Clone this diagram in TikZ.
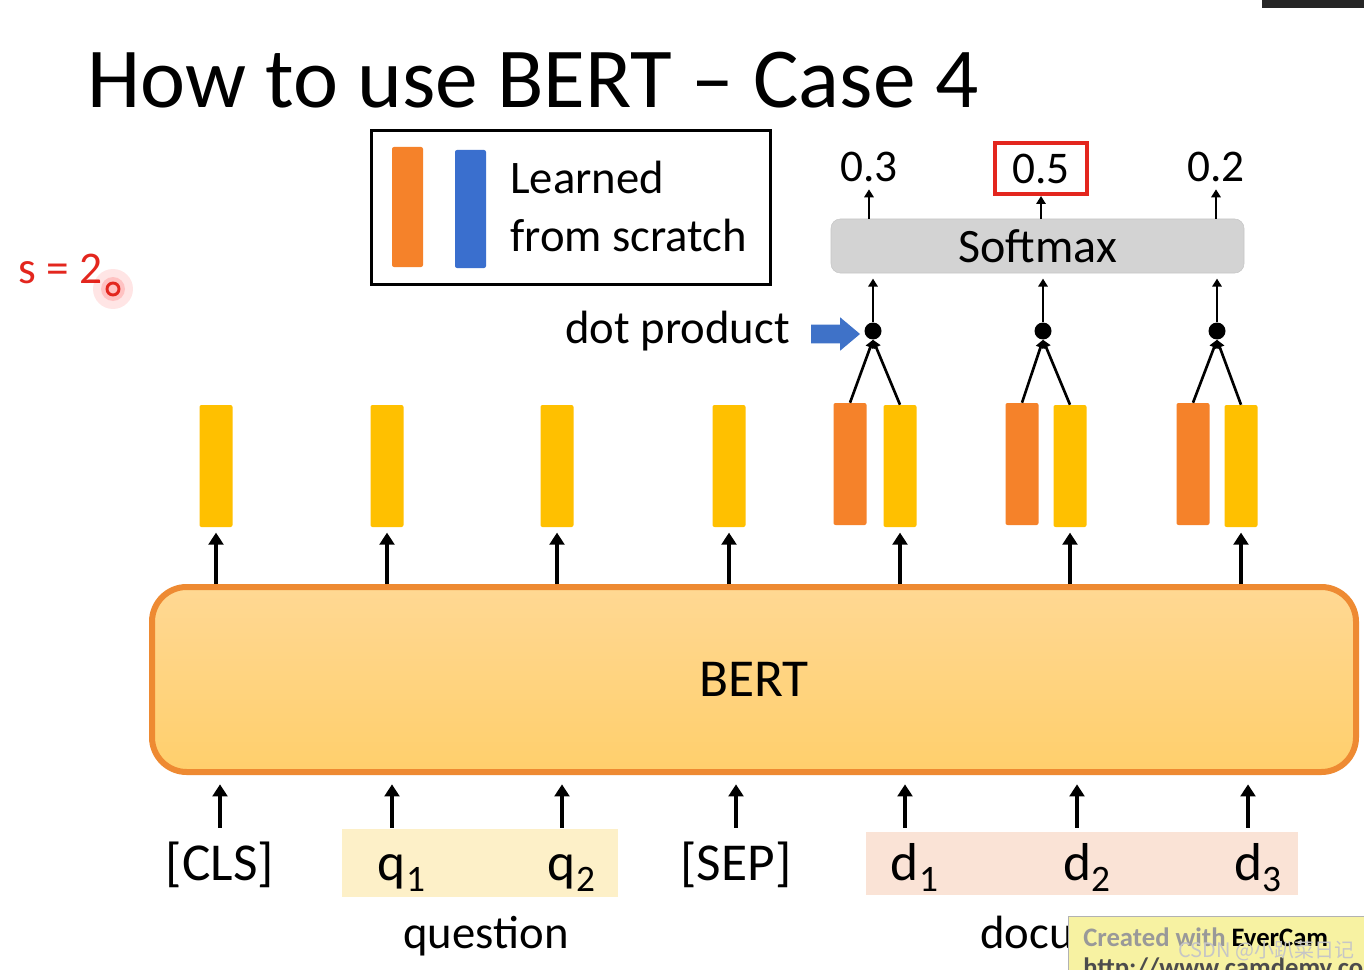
\documentclass[tikz,border=0pt]{standalone}
\usepackage{fontspec}
\setmainfont{Carlito}
\newfontfamily\cjkfont{Noto Sans CJK SC}
\usetikzlibrary{arrows.meta,shapes.arrows,calc}
\definecolor{barY}{HTML}{FFC000}
\definecolor{barO}{HTML}{F5822A}
\definecolor{barB}{HTML}{3A6FCE}
\definecolor{bertE}{HTML}{EE8A32}
\definecolor{bertT}{HTML}{FFD893}
\definecolor{bertB}{HTML}{FFCF6C}
\definecolor{smxF}{HTML}{D3D3D3}
\definecolor{smxD}{HTML}{C6C6C6}
\definecolor{redM}{HTML}{E3261E}
\definecolor{qbg}{HTML}{FDF0C8}
\definecolor{dbg}{HTML}{FAE3D6}
\definecolor{arrowB}{HTML}{3F72C8}
\definecolor{everY}{HTML}{F7F2A2}
\newcommand\fs[1]{\fontsize{#1}{#1}\selectfont}
\newcommand\subs[1]{\rlap{\raisebox{-0.22em}{\fs{28}#1}}}
\tikzset{
  bar/.style={minimum width=24.75pt, minimum height=91.5pt, inner sep=0pt, rounded corners=1.5pt, draw=none},
  ybar/.style={bar, fill=barY},
  obar/.style={bar, fill=barO},
  arrB/.style={line width=3pt, -{Triangle[length=9pt,width=11pt]}},
  arrS/.style={line width=2pt, -{Triangle[length=6pt,width=7pt]}},
  tok/.style={anchor=base, inner sep=0pt, text height=39pt, font=\fs{40}},
  dotn/.style={circle, fill=black, minimum size=12.75pt, inner sep=0pt},
  num/.style={anchor=base, font=\fs{34}, inner sep=0pt},
  lbl/.style={anchor=base west, inner sep=0pt, font=\fs{35}},
}
\begin{document}
\begin{tikzpicture}[x=0.75pt,y=-0.75pt]
\useasboundingbox (0,0) rectangle (1364,970);
\fill[white] (0,0) rectangle (1364,970);
\fill[black!85] (1262,0) rectangle (1364,8);

% title
\node[anchor=base west, inner sep=0pt, font=\fs{64}] (title) at (87,108) {How to use BERT – Case 4};

% s = 2 with pointer
\node[anchor=base west, inner sep=0pt, text=redM, font=\fs{34}] (s) at (18,283) {s = 2};
\node[circle, fill=red, opacity=0.10, minimum size=30pt, inner sep=0pt] (glow) at (113,289) {};
\node[circle, fill=red, opacity=0.15, minimum size=18pt, inner sep=0pt] (glow2) at (113,289) {};
\node[circle, draw=redM, line width=2.2pt, minimum size=9pt, inner sep=0pt] (cur) at (113,289) {};

% legend
\node[draw, line width=2.25pt, minimum width=299.25pt, minimum height=114.75pt, inner sep=0pt] (leg) at (570.5,207.5) {};
\node[obar, minimum width=23.25pt, minimum height=90pt] (lo) at (407.5,207) {};
\node[bar, fill=barB, minimum width=23.25pt, minimum height=88.5pt] (lb) at (470.5,209) {};
\node[lbl] (l1) at (510,194) {Learned};
\node[lbl] (l2) at (510,252) {from scratch};

% softmax
\node[fill=smxF, draw=smxD, rounded corners=7pt, minimum width=309.75pt, minimum height=40.5pt, inner sep=0pt, font=\fs{36}] (smx) at (1037.5,246) {Softmax};
\node[num] (n1) at (869,182) {0.3};
\node[draw=redM, line width=3pt, minimum width=69pt, minimum height=38.25pt, inner sep=0pt, font=\fs{34}] (n2) at (1041,168.5) {0.5};
\node[num] (n3) at (1216,182) {0.2};
\draw[arrS, shorten >=5pt] (n1.south |- smx.north) -- (n1.south);
\draw[arrS] (n2.south |- smx.north) -- (n2.south);
\draw[arrS, shorten >=5pt] (n3.south |- smx.north) -- (n3.south);

% dot products
\node[dotn] (dt1) at (873,331) {};
\node[dotn] (dt2) at (1043,331) {};
\node[dotn] (dt3) at (1217,331) {};
\foreach \i in {1,2,3}{\draw[arrS, shorten >=4pt] (dt\i.north) -- (dt\i.north |- smx.south);}
\node[anchor=base east, inner sep=0pt, font=\fs{35}] (dp) at (790,343) {dot product};
\node[single arrow, fill=arrowB, minimum height=36.75pt, single arrow head extend=5.5pt, single arrow tip angle=80, inner xsep=0pt, inner ysep=6.75pt] (barrow) at (830,334) {};

% output bars
\node[ybar] (y1) at (216,466) {};
\node[ybar] (y2) at (387,466) {};
\node[ybar] (y3) at (557,466) {};
\node[ybar] (y4) at (729,466) {};
\node[obar] (o5) at (850,464) {};
\node[ybar] (y5) at (900,466) {};
\node[obar] (o6) at (1022,464) {};
\node[ybar] (y6) at (1070,466) {};
\node[obar] (o7) at (1193,464) {};
\node[ybar] (y7) at (1241,466) {};
\draw[arrS] (o5.north) -- (dt1.south);
\draw[arrS] (y5.north) -- (dt1.south);
\draw[arrS] (o6.north) -- (dt2.south);
\draw[arrS] (y6.north) -- (dt2.south);
\draw[arrS] (o7.north) -- (dt3.south);
\draw[arrS] (y7.north) -- (dt3.south);

% BERT
\node[draw=bertE, line width=4.5pt, top color=bertT, bottom color=bertB, rounded corners=26pt, minimum width=903pt, minimum height=138.75pt, inner sep=0pt, font=\fs{40}] (bert) at (754,679.5) {BERT};
\foreach \b in {y1,y2,y3,y4,y5,y6,y7}{\draw[arrB, shorten >=4pt] (bert.north -| \b.south) -- (\b.south);}

% input tokens
\fill[qbg] (342,829) rectangle (618,897);
\fill[dbg] (866,832) rectangle (1298,895);
\node[tok] (t0) at (220,880) {[CLS]};
\node[tok] (t1) at (392,880) {q\subs{1}};
\node[tok] (t2) at (562,880) {q\subs{2}};
\node[tok] (t3) at (736,880) {[SEP]};
\node[tok] (t4) at (905,880) {d\subs{1}};
\node[tok] (t5) at (1077,880) {d\subs{2}};
\node[tok] (t6) at (1248,880) {d\subs{3}};
\foreach \t in {t0,t1,t2,t3,t4,t5,t6}{\draw[arrB, shorten >=7pt] (\t.north) -- (\t.north |- bert.south);}
\node[anchor=base, inner sep=0pt, font=\fs{35}] (qlab) at (486,948) {question};
\node[lbl] (dlab) at (980,948) {document};

% recorder watermark
\node[anchor=north west, fill=everY, draw=gray!60, line width=1pt, minimum width=222pt, minimum height=42pt, inner sep=0pt] (ever) at (1068,916) {};
\node[anchor=base west, inner sep=0pt, font=\bfseries\fs{20}] (ev1) at (1083,946) {\textcolor{gray!80}{Created with} EverCam};
\node[anchor=base west, inner sep=0pt, font=\bfseries\fs{20}, text=black!70] (ev2) at (1083,976) {http://www.camdemy.com};
\node[anchor=base west, inner sep=0pt, font=\cjkfont\fs{15}, text=gray!45] (csdn) at (1178,957) {CSDN @小趴菜日记};
\end{tikzpicture}
\end{document}
